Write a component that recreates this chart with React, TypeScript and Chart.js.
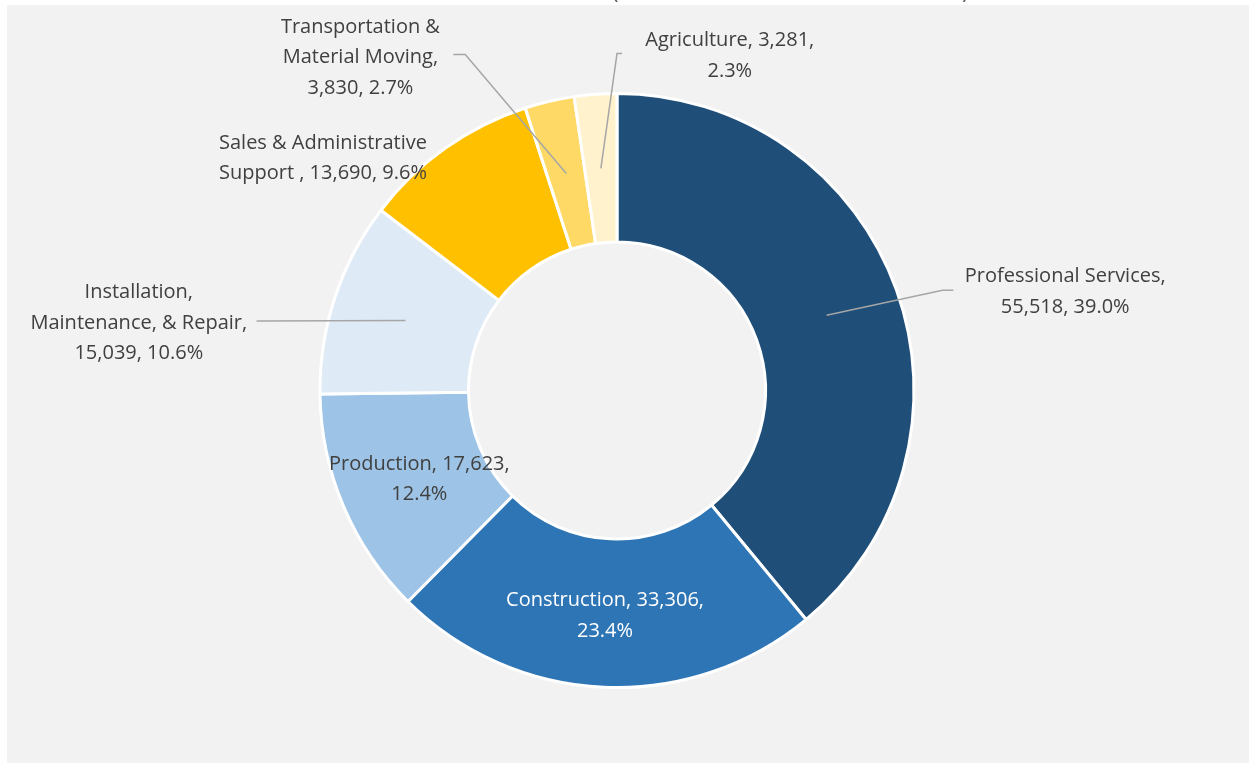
import React, { useEffect, useRef } from 'react';
import { Chart, registerables } from 'chart.js';

Chart.register(...registerables);

// ---- data ----
const categories = [
  'Professional Services',
  'Construction',
  'Production',
  'Installation, Maintenance, & Repair',
  'Sales & Administrative Support ',
  'Transportation & Material Moving',
  'Agriculture',
];
const values = [55518, 33306, 17623, 15039, 13690, 3830, 3281];
const colors = ['#1f4e79', '#2e75b6', '#9dc3e6', '#deebf7', '#ffc000', '#ffd966', '#fff2cc'];
// words per wrapped line of each data label
const labelWrap = [[2, 2], [2, 1], [2, 1], [1, 3, 2], [3, 4], [2, 2, 2], [2, 1]];
const labelColors = ['#404040', '#ffffff', '#404040', '#404040', '#404040', '#404040', '#404040'];

// ---- label layout (offsets from doughnut centre, at reference radius 297.5) ----
const REF_R = 297.5;
const labelPos = [
  { x: 449, y: -99 },
  { x: -12, y: 225.5 },
  { x: -198, y: 89 },
  { x: -479, y: -67.5 },
  { x: -294.5, y: -232.5 },
  { x: -257, y: -333.5 },
  { x: 113, y: -335.5 },
];
const leaders: (number[][] | null)[] = [
  [[326, -100.5], [337, -100.5]],
  null,
  null,
  [[-361, -69.5]],
  null,
  [[-152, -336.5], [-164, -336.5]],
  [[0, -337.5], [5, -337.5]],
];

const FONT = '"Open Sans", "Noto Sans", sans-serif';
const FONT_SIZE = 20;
const LINE_H = 30.5;

const total = values.reduce((a, b) => a + b, 0);
const fmt = (v: number) => v.toLocaleString('en-US');
const labelLines = categories.map((c, i) => {
  const pct = ((values[i] / total) * 100).toFixed(1) + '%';
  const words = `${c}, ${fmt(values[i])}, ${pct}`.split(/\s+/).filter((w) => w.length);
  const out: string[] = [];
  let p = 0;
  for (const n of labelWrap[i]) {
    out.push(words.slice(p, p + n).join(' '));
    p += n;
  }
  return out;
});

const bgPlugin = {
  id: 'bg',
  beforeDraw(chart: any) {
    const ctx = chart.ctx;
    ctx.save();
    ctx.fillStyle = '#f2f2f2';
    ctx.fillRect(7, 5, chart.width - 7, chart.height - 7);
    // bottom of the cut-off title's parentheses
    ctx.fillStyle = '#595959';
    ctx.font = `22px ${FONT}`;
    ctx.textBaseline = 'alphabetic';
    ctx.textAlign = 'left';
    ctx.fillText('(', 612, -1);
    ctx.fillText(')', 962, -1);
    ctx.restore();
  },
};

const labelPlugin = {
  id: 'dlabels',
  afterDatasetsDraw(chart: any) {
    const ctx = chart.ctx;
    const meta = chart.getDatasetMeta(0);
    const a0 = meta.data[0] as any;
    const cx = a0.x;
    const cy = a0.y;
    const k = a0.outerRadius / REF_R;
    ctx.save();
    meta.data.forEach((arc: any, i: number) => {
      const ld = leaders[i];
      if (ld) {
        const c = arc.getCenterPoint();
        ctx.beginPath();
        ctx.strokeStyle = '#a6a6a6';
        ctx.lineWidth = 1.5;
        ctx.moveTo(c.x, c.y);
        ld.forEach((p) => ctx.lineTo(cx + p[0] * k, cy + p[1] * k));
        ctx.stroke();
      }
      const lines = labelLines[i];
      const px = cx + labelPos[i].x * k;
      const py = cy + labelPos[i].y * k;
      ctx.fillStyle = labelColors[i];
      ctx.font = `${FONT_SIZE}px ${FONT}`;
      ctx.textAlign = 'center';
      ctx.textBaseline = 'middle';
      lines.forEach((t, j) => {
        ctx.fillText(t, px, py + (j - (lines.length - 1) / 2) * LINE_H);
      });
    });
    ctx.restore();
  },
};

export default function App() {
  const ref = useRef<HTMLCanvasElement | null>(null);
  useEffect(() => {
    if (!ref.current) return;
    const chart = new Chart(ref.current, {
      type: 'doughnut',
      data: {
        labels: categories,
        datasets: [
          {
            data: values,
            backgroundColor: colors,
            borderColor: '#ffffff',
            borderWidth: 3,
          },
        ],
      },
      options: {
        animation: false,
        responsive: false,
        events: [],
        cutout: '50%',
        layout: { padding: { top: 92, bottom: 76, left: 300, right: 315 } },
        plugins: { legend: { display: false }, tooltip: { enabled: false } },
      },
      plugins: [bgPlugin, labelPlugin],
    });
    return () => chart.destroy();
  }, []);
  return (
    <div style={{ position: 'fixed', left: 0, top: 0, width: 1249, height: 765 }}>
      <canvas ref={ref} width={1249} height={765} style={{ display: 'block' }} />
    </div>
  );
}
